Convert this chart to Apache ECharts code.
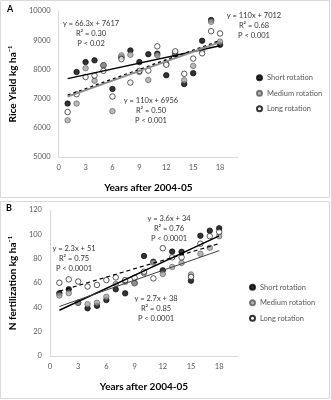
<!DOCTYPE html>
<html>
<head>
<meta charset="utf-8">
<script src="https://cdn.jsdelivr.net/npm/echarts@6.0.0/dist/echarts.min.js"></script>
<style>
html, body { margin: 0; padding: 0; background: #fff; }
#main { width: 331px; height: 400px; }
</style>
</head>
<body>
<div id="main"></div>
<script>
// years after 2004-05
var years = [1, 2, 3, 4, 5, 6, 7, 8, 9, 10, 11, 12, 13, 14, 15, 16, 17, 18];
var seriesNames = ['Short rotation', 'Medium rotation', 'Long rotation'];

// A - rice yield, kg/ha
var yieldShort  = [6830, 7910, 8250, 8310, 8140, 7330, 8420, 8650, 8250, 8520, 8540, 7800, 8510, 7500, 7870, 8980, 9690, 8840];
var yieldMedium = [6260, 6830, 8040, 7610, 8140, 6570, 8480, 8500, 7910, 7640, 8480, 8200, 8560, 7630, 8120, 8650, 9630, 8950];
var yieldLong   = [6540, 7150, 7740, 7790, 7950, 7070, 8350, 7550, 7950, 7960, 8790, 8160, 8620, 7850, 8370, 8550, 9310, 9230];

// B - N fertilization, kg/ha
var nShort  = [51.5, 54.8, 43.8, 39.2, 41.3, 46.0, 54.8, 51.5, 60.0, 82.2, 77.5, 70.4, 85.8, 85.6, 61.9, 98.8, 103.0, 105.0];
var nMedium = [49.7, 51.6, 43.7, 42.6, 43.8, 48.7, 59.2, 61.0, 59.7, 68.0, 76.7, 67.4, 73.2, 76.5, 67.0, 84.0, 89.0, 98.5];
var nLong   = [60.2, 63.0, 61.2, 57.1, 58.4, 62.4, 64.6, 62.4, 64.4, 69.3, 63.8, 88.6, 81.1, 81.1, 65.0, 92.3, 98.5, 102.0];

// trendline ends (x = 1 and x = 18), short / medium / long
var trendYield = [[7683, 8810], [7066, 8936], [7122, 8992]];
var trendN     = [[37.6, 98.8], [40.7, 86.6], [53.3, 92.4]];

var eqYield = ['y = 66.3x + 7617\nR² = 0.30\nP < 0.02', 'y = 110x + 6956\nR² = 0.50\nP < 0.001', 'y = 110x + 7012\nR² = 0.68\nP < 0.001'];
var eqN     = ['y = 2.3x + 51\nR² = 0.75\nP < 0.0001', 'y = 3.6x + 34\nR² = 0.76\nP < 0.0001', 'y = 2.7x + 38\nR² = 0.85\nP < 0.0001'];

var FONT = 'Lato, "Liberation Sans", sans-serif';

var markerStyles = [
    { color: '#000', borderColor: '#000', borderWidth: 0.8 },
    { color: '#a6a6a6', borderColor: '#595959', borderWidth: 0.8 },
    { color: '#fff', borderColor: '#000', borderWidth: 0.8 }
];
var trendStyles = [
    [ { color: '#000', width: 1.4, type: 'solid' }, { color: '#8c8c8c', width: 2, type: 'solid' }, { color: '#000', width: 1.2, type: [3, 3] } ],
    [ { color: '#000', width: 1.4, type: 'solid' }, { color: '#404040', width: 1, type: 'solid' }, { color: '#000', width: 1.2, type: [4, 3] } ]
];

function pairs(vals) {
    return years.map(function (x, i) { return [x, vals[i]]; });
}

var myChart = echarts.init(document.getElementById('main'), null, { renderer: 'canvas' });

var series = [];
var panels = [[yieldShort, yieldMedium, yieldLong], [nShort, nMedium, nLong]];
var trends = [trendYield, trendN];

for (var p = 0; p < 2; p++) {
    for (var s = 0; s < 3; s++) {
        series.push({
            name: seriesNames[s],
            type: 'scatter',
            xAxisIndex: p,
            yAxisIndex: p,
            symbol: 'circle',
            symbolSize: 5.5,
            itemStyle: markerStyles[s],
            data: pairs(panels[p][s]),
            z: 2
        });
    }
    for (var t = 0; t < 3; t++) {
        series.push({
            name: 'trend ' + p + t,
            type: 'line',
            xAxisIndex: p,
            yAxisIndex: p,
            showSymbol: false,
            silent: true,
            lineStyle: trendStyles[p][t],
            data: [[years[0], trends[p][t][0]], [years[years.length - 1], trends[p][t][1]]],
            z: 3
        });
    }
}

function xAxisOpt(gridIndex) {
    return {
        type: 'value',
        gridIndex: gridIndex,
        min: 0,
        max: 20,
        interval: 3,
        name: 'Years after 2004-05',
        nameLocation: 'middle',
        nameGap: 26,
        nameTextStyle: { fontFamily: FONT, fontWeight: 'bold', fontSize: 10, color: '#000' },
        axisLine: { lineStyle: { color: '#d9d9d9', width: 1 } },
        axisTick: { show: false },
        splitLine: { show: false },
        axisLabel: { fontFamily: FONT, fontSize: 7.5, color: '#595959', margin: 7, showMaxLabel: false }
    };
}

function yAxisOpt(gridIndex, name, min, max, interval, gap) {
    return {
        type: 'value',
        gridIndex: gridIndex,
        min: min,
        max: max,
        interval: interval,
        name: name,
        nameLocation: 'middle',
        nameRotate: 90,
        nameGap: gap,
        nameTextStyle: { fontFamily: FONT, fontWeight: 'bold', fontSize: 10, color: '#000' },
        axisLine: { show: true, lineStyle: { color: '#d9d9d9', width: 1 } },
        axisTick: { show: false },
        splitLine: { show: false },
        axisLabel: {
            fontFamily: FONT, fontSize: 7.5, color: '#595959', margin: 8,
            formatter: function (v) { return String(v); }
        }
    };
}

function eqText(x, y, txt) {
    return {
        type: 'text',
        x: x,
        y: y,
        silent: true,
        style: {
            text: txt,
            align: 'center',
            verticalAlign: 'top',
            lineHeight: 10,
            fill: '#333',
            font: '7.5px ' + FONT
        }
    };
}

function legendOpt(left, top) {
    return {
        data: seriesNames,
        orient: 'vertical',
        left: left,
        top: top,
        padding: 0,
        icon: 'circle',
        itemWidth: 5,
        itemHeight: 5,
        itemGap: 5,
        textStyle: { fontFamily: FONT, fontSize: 7.5, color: '#595959', lineHeight: 10.5 },
        selectedMode: false
    };
}

var option = {
    animation: false,
    backgroundColor: '#fff',
    grid: [
        { left: 57, right: 93, top: 11, bottom: 243 },
        { left: 49, right: 93, top: 210, bottom: 44 }
    ],
    xAxis: [xAxisOpt(0), xAxisOpt(1)],
    yAxis: [
        yAxisOpt(0, 'Rice Yield kg ha⁻¹', 5000, 10000, 1000, 36),
        yAxisOpt(1, 'N fertilization kg ha⁻¹', 0, 120, 20, 29)
    ],
    legend: [legendOpt(256, 72.5), legendOpt(249, 282)],
    graphic: [
        { type: 'rect', shape: { x: 0.5, y: 0.5, width: 329, height: 197 }, style: { fill: null, stroke: '#d9d9d9', lineWidth: 1 }, silent: true, z: -1 },
        { type: 'rect', shape: { x: 0.5, y: 201.5, width: 329, height: 197 }, style: { fill: null, stroke: '#d9d9d9', lineWidth: 1 }, silent: true, z: -1 },
        { type: 'text', x: 7, y: 5, style: { text: 'A', font: 'bold 9px ' + FONT, fill: '#000' } },
        { type: 'text', x: 6, y: 204, style: { text: 'B', font: 'bold 9px ' + FONT, fill: '#000' } },
        eqText(91, 19, eqYield[0]),
        eqText(151, 96, eqYield[1]),
        eqText(254, 11, eqYield[2]),
        eqText(74, 244, eqN[0]),
        eqText(169, 214, eqN[1]),
        eqText(156, 294, eqN[2])
    ],
    series: series
};

myChart.setOption(option);
</script>
</body>
</html>
